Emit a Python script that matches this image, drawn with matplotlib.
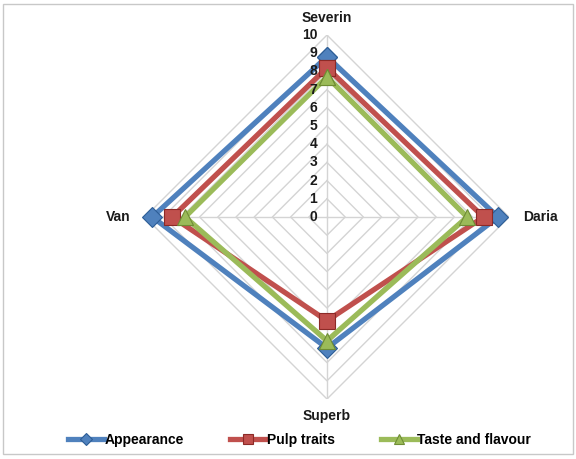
import numpy as np
import matplotlib
matplotlib.use("Agg")
import matplotlib.pyplot as plt
from matplotlib.patches import Rectangle

plt.rcParams["font.family"] = ["Liberation Sans", "DejaVu Sans"]

categories = ["Severin", "Daria", "Superb", "Van"]
series_names = ["Appearance", "Pulp traits", "Taste and flavour"]
appearance = [8.8, 9.4, 7.2, 9.6]
pulp_traits = [8.2, 8.6, 5.7, 8.5]
taste_flavour = [7.7, 7.7, 6.8, 7.8]
r_ticks = [0, 1, 2, 3, 4, 5, 6, 7, 8, 9, 10]

colors = ["#4f81bd", "#c0504d", "#9bbb59"]
edge_colors = ["#2c5d96", "#8c2a27", "#6f8d35"]
markers = ["D", "s", "^"]
msizes = [10, 12, 12]

fig = plt.figure(figsize=(5.76, 4.59), dpi=100)
fig.patches.append(Rectangle((0.006, 0.01), 0.988, 0.982, transform=fig.transFigure,
                             fill=False, edgecolor="#c8c8c8", linewidth=1.0))

ax = fig.add_axes([0.2517, 0.1307, 0.632, 0.793], projection="polar")
ax.set_theta_offset(np.pi / 2)
ax.set_theta_direction(-1)
ax.set_ylim(0, 10)
ax.grid(False)
ax.set_xticks([])
ax.set_yticks([])
ax.spines["polar"].set_visible(False)
ax.patch.set_alpha(0)

n = len(categories)
theta = np.arange(n) * 2 * np.pi / n
theta_c = np.concatenate([theta, theta[:1]])

# polygonal grid
for r in r_ticks[1:]:
    ax.plot(theta_c, [r] * (n + 1), color="#d4d4d4", linewidth=1.0, zorder=1)
for t in theta:
    ax.plot([t, t], [0, 10], color="#d4d4d4", linewidth=1.0, zorder=1)

for name, vals, c, ec, m, ms in zip(series_names, [appearance, pulp_traits, taste_flavour],
                                    colors, edge_colors, markers, msizes):
    v = list(vals) + [vals[0]]
    ax.plot(theta_c, v, color=c, linewidth=3.8, marker=m, markersize=ms,
            markerfacecolor=c, markeredgecolor=ec, markeredgewidth=0.8,
            label=name, zorder=3, clip_on=False)

# radial tick labels
for r in r_ticks:
    ax.annotate(str(r), xy=(0, r), xytext=(-7, 0), textcoords="offset points",
                ha="right", va="center", fontsize=10, fontweight="bold", color="#1a1a1a",
                annotation_clip=False)

# category labels
offsets = {"Severin": (0, 12, "center", "center"),
           "Daria": (10.5, 0, "left", "center"),
           "Superb": (0, -12, "center", "center"),
           "Van": (-10.5, 0, "right", "center")}
for t, cat in zip(theta, categories):
    dx, dy, ha, va = offsets[cat]
    ax.annotate(cat, xy=(t, 10), xytext=(dx, dy), textcoords="offset points",
                ha=ha, va=va, fontsize=10, fontweight="bold", color="#1a1a1a",
                annotation_clip=False)

leg = fig.legend(loc="center", bbox_to_anchor=(0.52, 0.042), ncol=3, frameon=False,
                 prop={"size": 10, "weight": "bold"}, handlelength=2.6, handletextpad=0.05,
                 columnspacing=3.3, markerscale=0.65)

fig.savefig("out.png", dpi=100)
